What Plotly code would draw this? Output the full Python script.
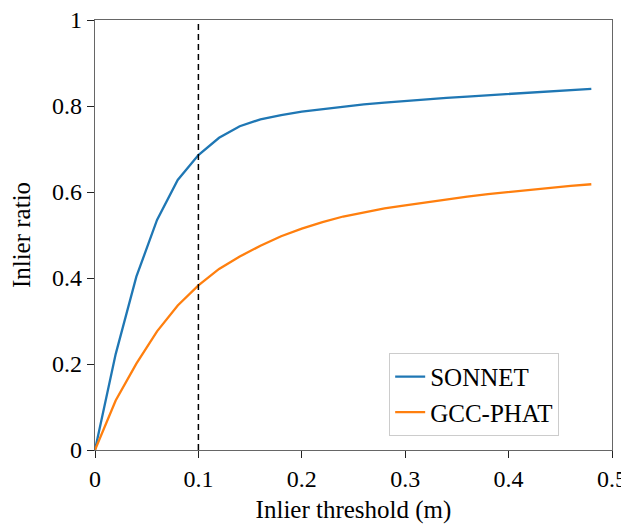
import plotly.graph_objects as go

thresholds = [0.00, 0.02, 0.04, 0.06, 0.08, 0.10, 0.12, 0.14, 0.16, 0.18, 0.20,
              0.22, 0.24, 0.26, 0.28, 0.30, 0.32, 0.34, 0.36, 0.38, 0.40,
              0.42, 0.44, 0.46, 0.48]
sonnet = [0.000, 0.223, 0.403, 0.535, 0.628, 0.686, 0.726, 0.753, 0.769, 0.779, 0.787,
          0.793, 0.799, 0.804, 0.808, 0.812, 0.816, 0.819, 0.822, 0.825, 0.828,
          0.831, 0.834, 0.837, 0.840]
gcc_phat = [0.000, 0.115, 0.201, 0.276, 0.336, 0.383, 0.421, 0.450, 0.475, 0.497, 0.515,
            0.530, 0.543, 0.553, 0.562, 0.569, 0.576, 0.583, 0.589, 0.595, 0.600,
            0.605, 0.610, 0.614, 0.618]
marker_threshold = 0.1
x_ticks = [0, 0.1, 0.2, 0.3, 0.4, 0.5]
x_tick_labels = ["0", "0.1", "0.2", "0.3", "0.4", "0.5"]
y_ticks = [0, 0.2, 0.4, 0.6, 0.8, 1.0]
y_tick_labels = ["0", "0.2", "0.4", "0.6", "0.8", "1"]

FONT = "Liberation Serif"

fig = go.Figure()
fig.add_trace(go.Scatter(x=thresholds, y=sonnet, mode="lines", name="SONNET",
                         line=dict(color="#1f77b4", width=2.3)))
fig.add_trace(go.Scatter(x=thresholds, y=gcc_phat, mode="lines", name="GCC-PHAT",
                         line=dict(color="#ff7f0e", width=2.3)))
fig.add_shape(type="line", x0=marker_threshold, x1=marker_threshold, y0=0, y1=1,
              xref="x", yref="y", line=dict(color="black", width=1.5, dash="6px,4px"))

axis_common = dict(showgrid=False, zeroline=False, showline=True, mirror=True,
                   linecolor="#666666", linewidth=1.3, ticks="outside", ticklen=7,
                   tickwidth=1.1, tickcolor="#222222", automargin=False,
                   ticklabeloverflow="allow",
                   tickfont=dict(family=FONT, size=24, color="black"))

# The page body has an 8px default margin, so the figure is sized to fit the window.
fig.update_layout(
    width=621, height=517,
    margin=dict(l=87, r=17, t=12, b=75, autoexpand=False),
    paper_bgcolor="white", plot_bgcolor="white",
    font=dict(family=FONT, size=24, color="black"),
    xaxis=dict(range=[0, 0.5], tickvals=x_ticks, ticktext=x_tick_labels,
               title=dict(text="Inlier threshold (m)", font=dict(family=FONT, size=25), standoff=9),
               **axis_common),
    yaxis=dict(range=[0, 1], tickvals=y_ticks, ticktext=y_tick_labels,
               title=dict(text="Inlier ratio", font=dict(family=FONT, size=25), standoff=14),
               **axis_common),
    legend=dict(x=0.569, y=0.033, xanchor="left", yanchor="bottom",
                bordercolor="#cccccc", borderwidth=1, bgcolor="white",
                font=dict(family=FONT, size=25), tracegroupgap=0),
    showlegend=True,
)

fig.write_html("out.html")
